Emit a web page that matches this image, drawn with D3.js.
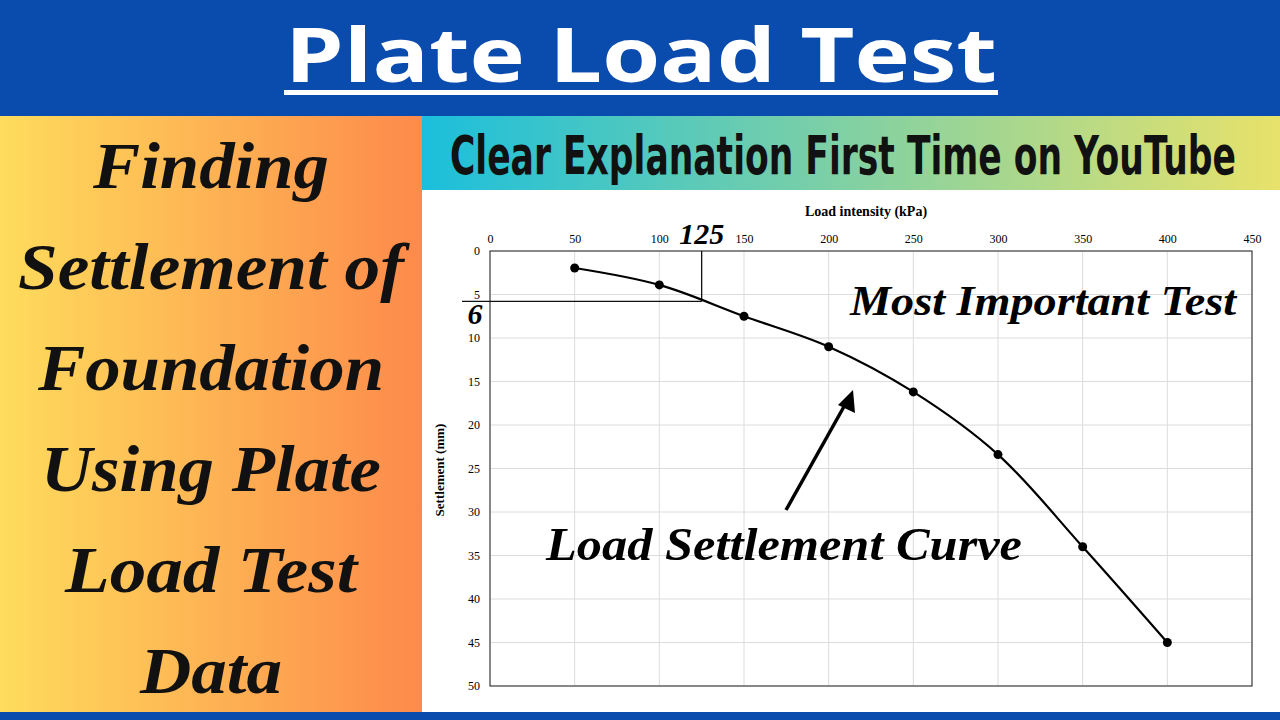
<!DOCTYPE html>
<html><head><meta charset="utf-8">
<script src="https://cdn.jsdelivr.net/npm/d3@7"></script>
<style>body{margin:0;}svg{display:block;}</style>
</head><body>
<svg id="chart" width="1280" height="720"></svg>
<script>
const loads = [50, 100, 150, 200, 250, 300, 350, 400];
const settlements = [1.95, 3.9, 7.5, 11, 16.2, 23.4, 34, 45];
const xTicks = d3.range(0, 451, 50);
const yTicks = d3.range(0, 51, 5);
const sideLines = ["Finding", "Settlement of", "Foundation", "Using Plate", "Load Test", "Data"];
const sideWidths = [236, 386, 346, 340, 292, 142];

const svg = d3.select("#chart");
const defs = svg.append("defs");
const g1 = defs.append("linearGradient").attr("id", "side");
g1.append("stop").attr("offset", "0%").attr("stop-color", "#fedc5c");
g1.append("stop").attr("offset", "100%").attr("stop-color", "#fd8a4b");
const g2 = defs.append("linearGradient").attr("id", "sub");
g2.append("stop").attr("offset", "0%").attr("stop-color", "#1bbfdc");
g2.append("stop").attr("offset", "100%").attr("stop-color", "#e8e26a");

svg.append("rect").attr("width", 1280).attr("height", 720).attr("fill", "#fff");
svg.append("rect").attr("width", 1280).attr("height", 116).attr("fill", "#0a4bae");
svg.append("rect").attr("y", 712).attr("width", 1280).attr("height", 8).attr("fill", "#0a4bae");
svg.append("rect").attr("y", 116).attr("width", 422).attr("height", 596).attr("fill", "url(#side)");
svg.append("rect").attr("x", 422).attr("y", 116).attr("width", 858).attr("height", 74).attr("fill", "url(#sub)");

svg.append("text").attr("x", 641).attr("y", 82).attr("text-anchor", "middle")
  .attr("font-family", "Open Sans, sans-serif").attr("font-weight", "bold").attr("font-size", 76)
  .attr("textLength", 712).attr("lengthAdjust", "spacingAndGlyphs")
  .attr("fill", "#fff").text("Plate Load Test");
svg.append("rect").attr("x", 284).attr("y", 90).attr("width", 714).attr("height", 5).attr("fill", "#fff");

svg.append("text").attr("x", 843).attr("y", 174).attr("text-anchor", "middle")
  .attr("font-family", "Liberation Sans Narrow, DejaVu Sans Condensed, sans-serif").attr("font-weight", "bold")
  .attr("font-size", 54).attr("textLength", 786).attr("lengthAdjust", "spacingAndGlyphs")
  .attr("fill", "#111").text("Clear Explanation First Time on YouTube");

svg.selectAll("text.side").data(sideLines).join("text").attr("class", "side")
  .attr("x", 211).attr("y", (d, i) => 188 + i * 101).attr("text-anchor", "middle")
  .attr("font-family", "Liberation Serif, serif").attr("font-style", "italic").attr("font-weight", "bold")
  .attr("font-size", 66).attr("textLength", (d, i) => sideWidths[i]).attr("lengthAdjust", "spacingAndGlyphs")
  .attr("fill", "#111").text(d => d);

// chart
const x = d3.scaleLinear().domain([0, 450]).range([490, 1252]);
const y = d3.scaleLinear().domain([0, 50]).range([251, 686]);

svg.append("g").selectAll("line").data(xTicks).join("line")
  .attr("x1", d => x(d)).attr("x2", d => x(d)).attr("y1", 251).attr("y2", 686).attr("stroke", "#dcdcdc");
svg.append("g").selectAll("line").data(yTicks).join("line")
  .attr("x1", 490).attr("x2", 1252).attr("y1", d => y(d)).attr("y2", d => y(d)).attr("stroke", "#dcdcdc");
svg.append("rect").attr("x", 490).attr("y", 251).attr("width", 762).attr("height", 435)
  .attr("fill", "none").attr("stroke", "#222");

svg.append("g").attr("transform", "translate(0,251)")
  .call(d3.axisTop(x).tickValues(xTicks).tickSize(0).tickPadding(8))
  .call(a => a.select(".domain").remove())
  .selectAll("text").attr("font-family", "Liberation Serif, serif").attr("font-size", 12);
svg.append("g").attr("transform", "translate(490,0)")
  .call(d3.axisLeft(y).tickValues(yTicks).tickSize(0).tickPadding(10))
  .call(a => a.select(".domain").remove())
  .selectAll("text").attr("font-family", "Liberation Serif, serif").attr("font-size", 12);

svg.append("text").attr("x", 866).attr("y", 216).attr("text-anchor", "middle")
  .attr("font-family", "Liberation Serif, serif").attr("font-weight", "bold").attr("font-size", 14)
  .text("Load intensity (kPa)");
svg.append("text").attr("transform", "translate(444,470) rotate(-90)").attr("text-anchor", "middle")
  .attr("font-family", "Liberation Serif, serif").attr("font-weight", "bold").attr("font-size", 13)
  .text("Settlement (mm)");

// reference lines at 125 kPa / 6 mm
svg.append("line").attr("x1", x(125)).attr("x2", x(125)).attr("y1", y(0)).attr("y2", y(5.8)).attr("stroke", "#111").attr("stroke-width", 1.3);
svg.append("line").attr("x1", 462).attr("x2", x(125)).attr("y1", y(5.8)).attr("y2", y(5.8)).attr("stroke", "#111").attr("stroke-width", 1.3);
svg.append("text").attr("x", x(125)).attr("y", 244).attr("text-anchor", "middle")
  .attr("font-family", "Liberation Serif, serif").attr("font-style", "italic").attr("font-weight", "bold")
  .attr("font-size", 30).text("125");
svg.append("text").attr("x", 475).attr("y", 324).attr("text-anchor", "middle")
  .attr("font-family", "Liberation Serif, serif").attr("font-style", "italic").attr("font-weight", "bold")
  .attr("font-size", 30).text("6");

const pts = loads.map((d, i) => [d, settlements[i]]);
svg.append("path").datum(pts)
  .attr("d", d3.line().x(d => x(d[0])).y(d => y(d[1])).curve(d3.curveCatmullRom))
  .attr("fill", "none").attr("stroke", "#000").attr("stroke-width", 2.2);
svg.append("g").selectAll("circle").data(pts).join("circle")
  .attr("cx", d => x(d[0])).attr("cy", d => y(d[1])).attr("r", 4.5).attr("fill", "#000");

svg.append("text").attr("x", 1236).attr("y", 315).attr("text-anchor", "end")
  .attr("font-family", "Liberation Serif, serif").attr("font-style", "italic").attr("font-weight", "bold")
  .attr("font-size", 42).attr("textLength", 386).attr("lengthAdjust", "spacingAndGlyphs").text("Most Important Test");
svg.append("text").attr("x", 784).attr("y", 560).attr("text-anchor", "middle")
  .attr("font-family", "Liberation Serif, serif").attr("font-style", "italic").attr("font-weight", "bold")
  .attr("font-size", 46).attr("textLength", 476).attr("lengthAdjust", "spacingAndGlyphs").text("Load Settlement Curve");

// arrow
svg.append("line").attr("x1", 786).attr("y1", 510).attr("x2", 846).attr("y2", 403)
  .attr("stroke", "#000").attr("stroke-width", 3.5);
svg.append("path").attr("d", "M853,390 L838,405 L855,413 Z").attr("fill", "#000");
</script>
</body></html>
